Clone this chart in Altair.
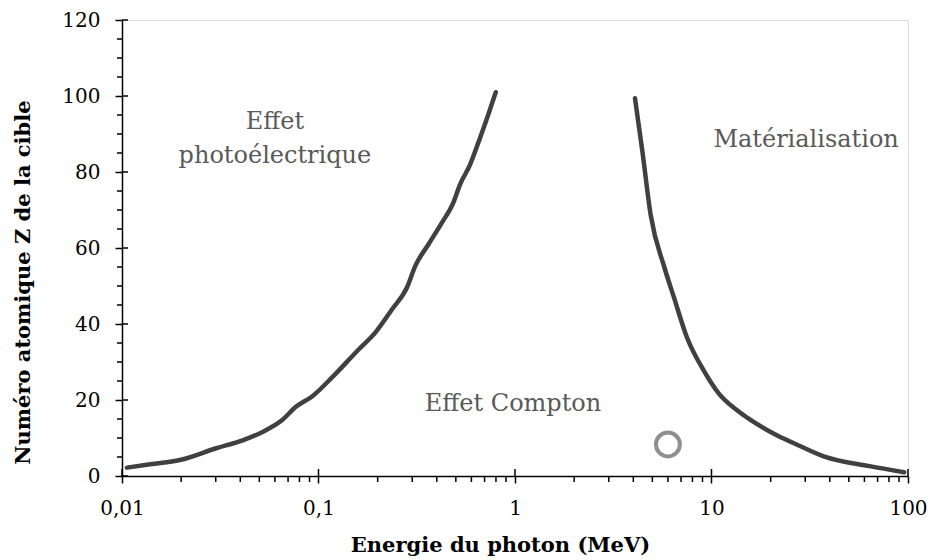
import altair as alt
import pandas as pd

# Photoelectric / Compton boundary (energy MeV, Z)
photo_E = [0.0106, 0.0139, 0.0197, 0.0302, 0.0411, 0.0519, 0.0656, 0.0767, 0.0931,
           0.1175, 0.160, 0.195, 0.237, 0.282, 0.311, 0.363, 0.424, 0.485, 0.525,
           0.590, 0.663, 0.730, 0.798]
photo_Z = [2.2, 3.1, 4.2, 7.3, 9.4, 11.6, 14.8, 18.2, 21.0,
           26.0, 33.3, 37.8, 43.9, 49.6, 55.3, 61.0, 66.6, 71.9, 76.7,
           81.9, 88.9, 95.0, 101.0]

# Compton / pair production boundary
mat_E = [4.08, 4.45, 4.90, 5.75, 6.44, 7.52, 9.12, 10.9, 13.5, 17.0, 21.5, 28.2, 37.6, 63.7, 95.7]
mat_Z = [99.4, 85.4, 68.8, 55.0, 47.0, 36.3, 27.8, 21.7, 17.3, 13.7, 10.7, 7.9, 5.1, 2.6, 1.0]

# Marked point
point_E = [6.0]
point_Z = [8.3]

# Region labels
label_text = ["Effet", "photoélectrique", "Matérialisation", "Effet Compton"]
label_E = [0.06, 0.06, 30.3, 0.977]
label_Z = [91.4, 82.4, 86.7, 17.1]

# Axis ticks
x_major = [0.01, 0.1, 1, 10, 100]
x_minor = [0.02, 0.03, 0.04, 0.05, 0.06, 0.07, 0.08, 0.09,
           0.2, 0.3, 0.4, 0.5, 0.6, 0.7, 0.8, 0.9,
           2, 3, 4, 5, 6, 7, 8, 9,
           20, 30, 40, 50, 60, 70, 80, 90]
y_major = [0, 20, 40, 60, 80, 100, 120]
y_minor = [5, 10, 15, 25, 30, 35, 45, 50, 55, 65, 70, 75, 85, 90, 95, 105, 110, 115]

W, H = 786, 456
FONT = "DejaVu Serif"

lines_df = pd.DataFrame({
    "E": photo_E + mat_E,
    "Z": photo_Z + mat_Z,
    "serie": ["photo"] * len(photo_E) + ["mat"] * len(mat_E),
    "ordre": list(range(len(photo_E))) + list(range(len(mat_E))),
})
point_df = pd.DataFrame({"E": point_E, "Z": point_Z})
label_df = pd.DataFrame({"txt": label_text, "E": label_E, "Z": label_Z})
xmaj_df = pd.DataFrame({"E": x_major})
xmin_df = pd.DataFrame({"E": x_minor})
ymaj_df = pd.DataFrame({"Z": y_major})
ymin_df = pd.DataFrame({"Z": y_minor})

xscale = alt.Scale(type="log", domain=[0.01, 100], nice=False)
yscale = alt.Scale(domain=[0, 120], nice=False)

x_axis = alt.Axis(
    values=x_major, format="~g", labelExpr="replace(datum.label, '.', ',')",
    title="Energie du photon (MeV)", grid=False,
    domainColor="black", domainWidth=1.5, tickColor="black", tickWidth=1.5, tickSize=7,
    labelFont=FONT, labelFontSize=20, labelColor="black", labelBaseline="alphabetic",
    labelPadding=31, labelFlush=False, labelOverlap=False,
    titleFont=FONT, titleFontSize=21, titleFontWeight="bold", titleColor="black",
    titleX=378, titleY=75, titleBaseline="alphabetic", titleAlign="center",
)
y_axis = alt.Axis(
    values=y_major, format="d", title="Numéro atomique Z de la cible", grid=False,
    domainColor="black", domainWidth=1.5, tickColor="black", tickWidth=1.5, tickSize=7,
    labelFont=FONT, labelFontSize=20, labelColor="black", labelPadding=15,
    labelFlush=False, labelOverlap=False,
    titleFont=FONT, titleFontSize=21, titleFontWeight="bold", titleColor="black",
    titleX=-89, titleY=262, titleAlign="center", titleBaseline="bottom", titleAngle=270,
)

X = alt.X("E:Q", scale=xscale, axis=x_axis)
Y = alt.Y("Z:Q", scale=yscale, axis=y_axis)

lines = alt.Chart(lines_df).mark_line(
    color="#404040", strokeWidth=4.5, strokeCap="round", strokeJoin="round",
    interpolate="monotone"
).encode(x=X, y=Y, detail="serie:N", order="ordre:Q")

tick_style = dict(color="black", strokeWidth=1.5)

x_minor_ticks = alt.Chart(xmin_df).mark_rule(**tick_style).encode(
    x=X, y=alt.value(H), y2=alt.value(H + 6)
)
x_major_inner = alt.Chart(xmaj_df).mark_rule(**tick_style).encode(
    x=X, y=alt.value(H), y2=alt.value(H - 7)
)
y_minor_ticks = alt.Chart(ymin_df).mark_rule(**tick_style).encode(
    y=Y, x=alt.value(0), x2=alt.value(-5)
)
y_major_inner = alt.Chart(ymaj_df).mark_rule(**tick_style).encode(
    y=Y, x=alt.value(0), x2=alt.value(6)
)

circle = alt.Chart(point_df).mark_point(
    shape="circle", filled=False, size=570, strokeWidth=4, color="#8f8f8f", opacity=1
).encode(x=X, y=Y)

labels = alt.Chart(label_df).mark_text(
    font=FONT, fontSize=24, color="#595959", align="center", baseline="alphabetic"
).encode(x=X, y=Y, text="txt:N")

chart = alt.layer(
    lines, x_minor_ticks, x_major_inner, y_minor_ticks, y_major_inner, circle, labels
).properties(
    width=W, height=H,
    padding={"left": 114, "top": 12, "right": 19, "bottom": 80},
    autosize=alt.AutoSizeParams(type="none"),
).configure_view(strokeWidth=0).configure(background="white")

chart.save("out.html", embed_options={"renderer": "svg", "actions": False})
